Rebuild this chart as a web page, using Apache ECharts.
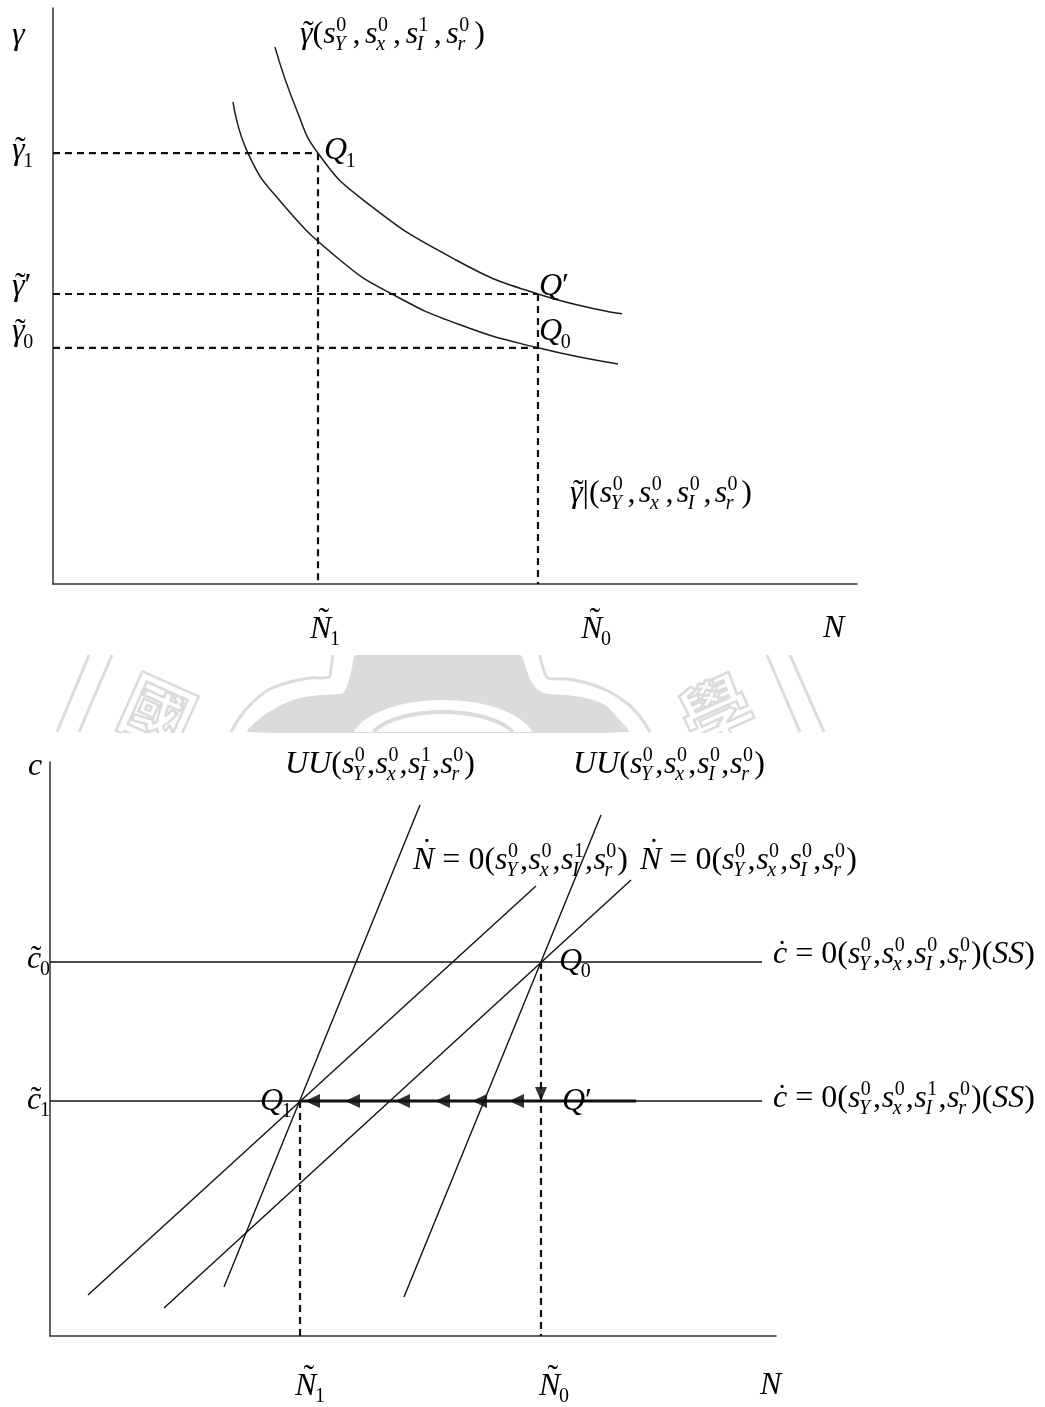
<!DOCTYPE html>
<html>
<head>
<meta charset="utf-8">
<script src="https://cdn.jsdelivr.net/npm/echarts/dist/echarts.min.js"></script>
<style>
  html, body { margin: 0; padding: 0; background: #fff; }
  #chart { width: 1045px; height: 1407px; }
</style>
</head>
<body>
<div id="chart"></div>
<script>
// ---------- upper panel: gamma schedules against N ----------
const gammaShiftedN = [27.61, 30.22, 32.96, 38.56, 50.12, 60.32, 70.77];
const gammaShiftedG = [93.2, 82.6, 74.8, 66.7, 56.25, 50.35, 46.9];
const gammaBaseN    = [22.39, 24.25, 28.11, 35.7, 42.16, 50.62, 60.32, 70.27];
const gammaBaseG    = [83.7, 74.8, 66.7, 56.25, 50.35, 45.0, 41.0, 38.2];
const topNLevels     = [32.96, 60.32];       // N~1, N~0
const topGammaLevels = [74.8, 50.35, 41.0];  // gamma~1, gamma~', gamma~0

// ---------- lower panel: c against N ----------
const botNLevels = [34.44, 67.63];   // N~1, N~0
const botCLevels = [65.16, 40.94];   // c~0, c~1
const uuShiftedN   = [23.97, 50.96];
const uuShiftedC   = [8.54, 92.51];
const uuBaseN      = [48.76, 75.9];
const uuBaseC      = [6.79, 90.77];
const nDotShiftedN = [5.23, 66.94];
const nDotShiftedC = [7.14, 78.4];
const nDotBaseN    = [15.7, 80.03];
const nDotBaseC    = [4.88, 79.44];
const cDotLineN    = [0, 98.07];
const pathN        = [34.44, 80.72];
const leftArrowN   = [35.12, 40.63, 47.52, 53.03, 58.13, 63.22];

const zip = (xs, ys) => xs.map((x, i) => [x, ys[i]]);

const chart = echarts.init(document.getElementById('chart'), null, { renderer: 'canvas' });

const axisBase = (grid) => ({
  gridIndex: grid, type: 'value', min: 0, max: 100,
  axisLine: { show: true, onZero: false, lineStyle: { color: '#333', width: 1.5 } },
  axisTick: { show: false }, axisLabel: { show: false }, splitLine: { show: false }
});

const lineSeries = (grid, data, style, extra) => Object.assign({
  type: 'line', xAxisIndex: grid, yAxisIndex: grid, data,
  symbol: 'none', showSymbol: false, silent: true, animation: false,
  lineStyle: style
}, extra || {});

const curveStyle = { color: '#1c1c1c', width: 1.5 };
const thinStyle  = { color: '#111', width: 1.4 };
const dashStyle  = { color: '#111', width: 2.2, type: [7, 5] };

const [tN1, tN0] = topNLevels;
const [g1, gP, g0] = topGammaLevels;
const [bN1, bN0] = botNLevels;
const [c0, c1] = botCLevels;

chart.setOption({
  animation: false,
  backgroundColor: '#fff',
  grid: [
    { left: 53, top: 8, width: 804, height: 576 },
    { left: 50, top: 762, width: 726, height: 574 }
  ],
  xAxis: [axisBase(0), axisBase(1)],
  yAxis: [axisBase(0), axisBase(1)],
  series: [
    // upper panel curves
    lineSeries(0, zip(gammaShiftedN, gammaShiftedG), curveStyle, { smooth: 0.5 }),
    lineSeries(0, zip(gammaBaseN, gammaBaseG), curveStyle, { smooth: 0.5 }),
    // upper panel guides
    lineSeries(0, [[0, g1], [tN1, g1]], dashStyle),
    lineSeries(0, [[tN1, g1], [tN1, 0]], dashStyle),
    lineSeries(0, [[0, gP], [tN0, gP]], dashStyle),
    lineSeries(0, [[0, g0], [tN0, g0]], dashStyle),
    lineSeries(0, [[tN0, gP], [tN0, 0]], dashStyle),
    // lower panel schedules
    lineSeries(1, zip(uuShiftedN, uuShiftedC), thinStyle),
    lineSeries(1, zip(uuBaseN, uuBaseC), thinStyle),
    lineSeries(1, zip(nDotShiftedN, nDotShiftedC), thinStyle),
    lineSeries(1, zip(nDotBaseN, nDotBaseC), thinStyle),
    lineSeries(1, cDotLineN.map(n => [n, c0]), thinStyle),
    lineSeries(1, cDotLineN.map(n => [n, c1]), thinStyle),
    // adjustment path Q' -> Q1
    lineSeries(1, pathN.map(n => [n, c1]), { color: '#111', width: 3 }),
    lineSeries(1, [[bN0, c0], [bN0, 0]], dashStyle),
    lineSeries(1, [[bN1, c1], [bN1, 0]], dashStyle),
    {
      type: 'scatter', xAxisIndex: 1, yAxisIndex: 1, silent: true, animation: false,
      data: leftArrowN.map(n => [n, c1]),
      symbol: 'path://M0,5L10,0L10,10Z', symbolSize: [15, 14], symbolOffset: ['50%', 0],
      itemStyle: { color: '#000' }
    },
    {
      type: 'scatter', xAxisIndex: 1, yAxisIndex: 1, silent: true, animation: false,
      data: [[bN0, c1]],
      symbol: 'path://M0,0L10,0L5,10Z', symbolSize: [12, 14], symbolOffset: [0, '-50%'],
      itemStyle: { color: '#000' }
    }
  ]
});

// ---------- typeset labels ----------
const SERIF = '"Liberation Serif","Times New Roman",serif';
const mctx = document.createElement('canvas').getContext('2d');
const fnt = (size, it) => (it ? 'italic ' : '') + size + 'px ' + SERIF;
const tw = (t, f) => { mctx.font = f; return mctx.measureText(t).width; };
const isLetter = ch => /[A-Za-z\u03b3]/.test(ch);

function txt(t, x, base, size, it, align) {
  return {
    type: 'text', x: x, y: base - 0.34 * size, z: 50, silent: true,
    style: { text: t, font: fnt(size, it), fill: '#000', align: align || 'left', verticalAlign: 'middle' }
  };
}

// tokens: { b: base glyph, it, acc: accent, sup, sub, g: gap weight after }
function glyphs(tokens, left, base, opt) {
  opt = opt || {};
  const S = opt.size || 32, s2 = Math.round(S * 0.62);
  const parts = tokens.map(t => {
    const it = t.it !== undefined ? t.it : isLetter(t.b);
    const bw = tw(t.b, fnt(S, it));
    const sw = Math.max(
      t.sup ? tw(t.sup, fnt(s2, isLetter(t.sup))) : 0,
      t.sub ? tw(t.sub, fnt(s2, isLetter(t.sub))) : 0);
    return { t, it, bw, w: bw + sw + (sw ? 1 : 0), g: t.g !== undefined ? t.g : 1 };
  });
  const natural = parts.reduce((a, p) => a + p.w, 0);
  const weights = parts.slice(0, -1).reduce((a, p) => a + p.g, 0);
  const unit = opt.width && weights ? (opt.width - natural) / weights : 0;
  const out = [];
  let x = left;
  parts.forEach(p => {
    const t = p.t;
    out.push(txt(t.b, x, base, S, p.it));
    if (t.acc) {
      const cap = /[A-Z]/.test(t.b);
      const cx = x + p.bw / 2 + (p.it ? S * (cap ? 0.1 : 0.06) : 0);
      out.push(txt(t.acc, cx, base - (cap ? S * 0.28 : S * 0.02), S, false, 'center'));
    }
    if (t.sup) out.push(txt(t.sup, x + p.bw + 0.5, base - S * 0.38, s2, isLetter(t.sup)));
    if (t.sub) out.push(txt(t.sub, x + p.bw - (p.it ? S * 0.04 : 0), base + S * 0.22, s2, isLetter(t.sub)));
    x += p.w + unit * p.g;
  });
  return out;
}

const sArg = (sub, sup) => ({ b: 's', sub, sup });
const argList = (iSup) => [
  { b: '(', g: 0 }, sArg('Y', '0'), { b: ',' }, sArg('x', '0'), { b: ',' },
  sArg('I', iSup), { b: ',' }, sArg('r', '0'), { b: ')' }
];

const P = (grid, pt) => chart.convertToPixel({ gridIndex: grid }, pt);

const labels = [];
const add = arr => arr.forEach(e => labels.push(e));

// upper panel
const pG1 = P(0, [tN1, g1]), pGP = P(0, [tN0, gP]), pG0 = P(0, [tN0, g0]);
const pAxisTop = P(0, [100, 0]);
add(glyphs([{ b: '\u03b3' }], 12, 46));
add(glyphs([{ b: '\u03b3', acc: '\u02dc', sub: '1' }], 12, pG1[1] + 8));
add(glyphs([{ b: '\u03b3', acc: '\u02dc', g: 0 }, { b: '\u2032', it: false }], 12, pGP[1] + 3));
add(glyphs([{ b: '\u03b3', acc: '\u02dc', sub: '0' }], 12, pG0[1] - 5));
add(glyphs([{ b: 'Q', sub: '1' }], pG1[0] + 6, pG1[1] + 8));
add(glyphs([{ b: 'Q', g: 0 }, { b: '\u2032', it: false }], pGP[0] + 1, pGP[1] + 3));
add(glyphs([{ b: 'Q', sub: '0' }], pG0[0] + 1, pG0[1] - 5));
add(glyphs([{ b: 'N', acc: '\u02dc', sub: '1' }], pG1[0] - 8, 640));
add(glyphs([{ b: 'N', acc: '\u02dc', sub: '0' }], pG0[0] + 43, 640));
add(glyphs([{ b: 'N' }], pAxisTop[0] - 34, 639));
add(glyphs([{ b: '\u03b3', acc: '\u02dc', g: 0 }].concat(argList('1')), 300, 45, { width: 185 }));
add(glyphs([{ b: '\u03b3', acc: '\u02dc', g: 0 }, { b: '|', it: false, g: 0 }].concat(argList('0')), 570, 504, { width: 182 }));

// lower panel
const pQ0 = P(1, [bN0, c0]), pQ1 = P(1, [bN1, c1]), pQP = P(1, [bN0, c1]);
const pAxisBot = P(1, [100, 0]);
add(glyphs([{ b: 'c' }], 28, 777));
add(glyphs([{ b: 'c', acc: '\u02dc', sub: '0' }], 27, pQ0[1] + 8));
add(glyphs([{ b: 'c', acc: '\u02dc', sub: '1' }], 27, pQ1[1] + 10));
add(glyphs([{ b: 'Q', sub: '0' }], pQ0[0] + 18, pQ0[1] + 10));
add(glyphs([{ b: 'Q', sub: '1' }], pQ1[0] - 40, pQ1[1] + 11));
add(glyphs([{ b: 'Q', g: 0 }, { b: '\u2032', it: false }], pQP[0] + 21, pQP[1] + 11));
add(glyphs([{ b: 'N', acc: '\u02dc', sub: '1' }], pQ1[0] - 5, 1397));
add(glyphs([{ b: 'N', acc: '\u02dc', sub: '0' }], pQP[0] - 2, 1397));
add(glyphs([{ b: 'N' }], pAxisBot[0] - 16, 1396));
add(glyphs([{ b: 'U', g: 0 }, { b: 'U', g: 0 }].concat(argList('1')), 285, 775, { width: 190 }));
add(glyphs([{ b: 'U', g: 0 }, { b: 'U', g: 0 }].concat(argList('0')), 573, 775, { width: 192 }));
const nDotHead = [{ b: 'N', acc: '\u02d9', g: 0 }, { b: ' = ', it: false, g: 0 }, { b: '0', g: 0 }];
add(glyphs(nDotHead.concat(argList('1')), 413, 871, { width: 215 }));
add(glyphs(nDotHead.concat(argList('0')), 640, 871, { width: 217 }));
const cDotHead = [{ b: 'c', acc: '\u02d9', g: 0 }, { b: ' = ', it: false, g: 0 }, { b: '0', g: 0 }];
const ssTail = [{ b: '(', g: 0 }, { b: 'SS', g: 0 }, { b: ')' }];
const withSS = (list) => { const l = list.slice(); l[l.length - 1] = { b: ')', g: 0 }; return l.concat(ssTail); };
add(glyphs(cDotHead.concat(withSS(argList('0'))), 773, 965, { width: 262 }));
add(glyphs(cDotHead.concat(withSS(argList('1'))), 773, 1109, { width: 262 }));

// ---------- faint seal stamp between the panels ----------
const SEAL = '#d9dcdb';
function archPts(cx, cy, rx, ry, yCut, n) {
  const t0 = Math.asin(Math.min(1, (cy - yCut) / ry));
  const pts = [];
  for (let i = 0; i <= n; i++) {
    const t = t0 + (Math.PI - 2 * t0) * i / n;
    pts.push([cx + rx * Math.cos(t), cy - ry * Math.sin(t)]);
  }
  return pts;
}
const seal = [
  { type: 'line', z: 1, silent: true, shape: { x1: 89, y1: 655, x2: 57, y2: 732 }, style: { stroke: SEAL, lineWidth: 3 } },
  { type: 'line', z: 1, silent: true, shape: { x1: 112, y1: 655, x2: 79, y2: 732 }, style: { stroke: SEAL, lineWidth: 3 } },
  { type: 'line', z: 1, silent: true, shape: { x1: 767, y1: 655, x2: 800, y2: 732 }, style: { stroke: SEAL, lineWidth: 3 } },
  { type: 'line', z: 1, silent: true, shape: { x1: 790, y1: 655, x2: 824, y2: 732 }, style: { stroke: SEAL, lineWidth: 3 } },
  { type: 'polygon', z: 1, silent: true, shape: { smooth: 0.25, points: [
      [248, 732], [262, 717], [281, 705], [300, 698], [320, 695], [343, 693], [348, 683], [352, 668], [356, 655],
      [520, 655], [526, 668], [532, 683], [543, 693], [566, 695], [586, 698], [605, 705], [617, 717], [628, 732]] },
    style: { fill: SEAL } },
  { type: 'polygon', z: 1, silent: true, shape: { points: archPts(443, 742, 92, 42, 732, 30) }, style: { fill: '#fff' } },
  { type: 'polyline', z: 1, silent: true, shape: { points: archPts(443, 742, 74, 30, 732, 30) }, style: { stroke: SEAL, lineWidth: 4, fill: null } },
  { type: 'polyline', z: 1, silent: true, shape: { smooth: 0.3, points: [[333, 655], [331, 668], [329, 677], [310, 678], [290, 682], [268, 690], [252, 703], [240, 717], [231, 732]] },
    style: { stroke: SEAL, lineWidth: 3, fill: null } },
  { type: 'polyline', z: 1, silent: true, shape: { smooth: 0.3, points: [[540, 655], [543, 668], [548, 678], [566, 679], [587, 683], [608, 691], [628, 704], [641, 718], [650, 732]] },
    style: { stroke: SEAL, lineWidth: 3, fill: null } },
  { type: 'text', z: 1, silent: true, x: 158, y: 712, rotation: -0.42,
    style: { text: '\u570b', font: 'bold 72px "Noto Sans CJK TC"', fill: 'none', stroke: SEAL, lineWidth: 2.5, align: 'center', verticalAlign: 'middle' } },
  { type: 'text', z: 1, silent: true, x: 716, y: 712, rotation: 0.42,
    style: { text: '\u5b78', font: 'bold 72px "Noto Sans CJK TC"', fill: 'none', stroke: SEAL, lineWidth: 2.5, align: 'center', verticalAlign: 'middle' } },
  { type: 'rect', z: 2, silent: true, shape: { x: 0, y: 733, width: 1045, height: 24 }, style: { fill: '#fff' } },
  { type: 'rect', z: 2, silent: true, shape: { x: 100, y: 648, width: 720, height: 7 }, style: { fill: '#fff' } }
];

chart.setOption({ graphic: { elements: seal.concat(labels) } });
</script>
</body>
</html>
